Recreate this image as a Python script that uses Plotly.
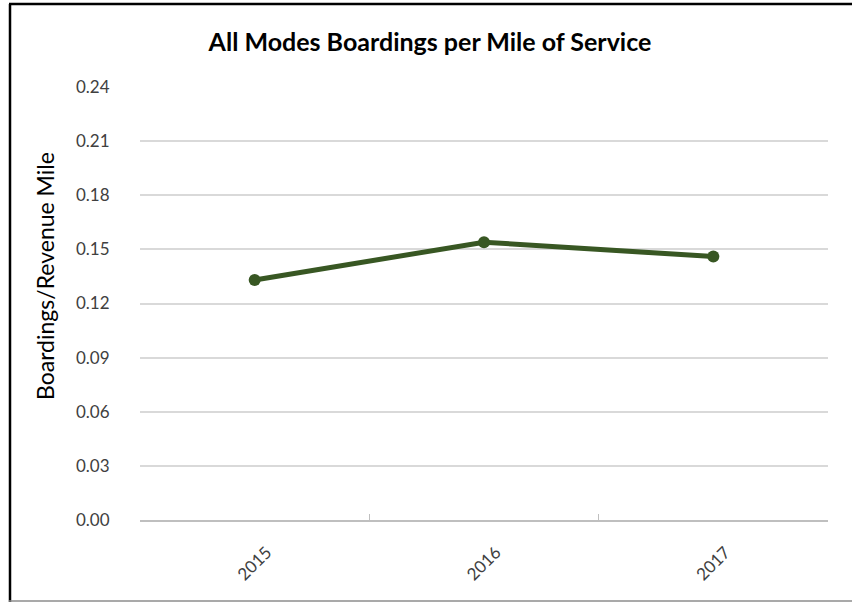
import plotly.graph_objects as go

years = ["2015", "2016", "2017"]
boardings_per_mile = [0.133, 0.154, 0.146]
y_ticks = [0.00, 0.03, 0.06, 0.09, 0.12, 0.15, 0.18, 0.21, 0.24]

fig = go.Figure()
fig.add_trace(go.Scatter(
    x=years, y=boardings_per_mile, mode="lines+markers",
    line=dict(color="#385723", width=5),
    marker=dict(color="#385723", size=12),
    showlegend=False,
))

L, R, T, B = 140, 24, 87, 82
W, H = 852, 602
pw, ph = W - L - R, H - T - B

def px(x):
    return (x - L) / pw

def py(y):
    return (H - B - y) / ph

fig.update_layout(
    width=W, height=H,
    margin=dict(l=L, r=R, t=T, b=B, autoexpand=False),
    paper_bgcolor="white", plot_bgcolor="white",
    font=dict(family="Lato, Open Sans, sans-serif", color="#595959", size=15),
    title=dict(text="<b>All Modes Boardings per Mile of Service</b>",
               x=px(430), xanchor="center", y=1 - 42 / H, yanchor="middle",
               xref="paper", font=dict(size=25, color="#000000")),
    xaxis=dict(
        type="category", showgrid=False, showline=True, linecolor="#bfbfbf",
        linewidth=1.5, ticks="inside", tickson="boundaries", ticklen=6,
        tickcolor="#bfbfbf", tickangle=-45, tickfont=dict(size=17, color="#404040"),
        ticklabelshift=12, ticklabelstandoff=14,
        range=[-0.5, 2.5], zeroline=False,
    ),
    yaxis=dict(
        range=[0, 0.24], tickvals=y_ticks, tickformat=".2f",
        showgrid=True, gridcolor="#d9d9d9", gridwidth=1.5,
        zeroline=False, showline=False, ticks="outside", ticklen=26,
        tickcolor="rgba(0,0,0,0)", tickfont=dict(size=17, color="#404040"),
    ),
    annotations=[dict(
        text="Boardings/Revenue Mile", textangle=-90,
        xref="paper", yref="paper", x=px(45), y=py(276),
        xanchor="center", yanchor="middle", showarrow=False,
        font=dict(size=23, color="#000000"),
    )],
    shapes=[
        dict(type="line", xref="paper", yref="paper",
             x0=px(10), x1=px(10), y0=py(604), y1=py(4),
             line=dict(color="#000000", width=2.5)),
        dict(type="line", xref="paper", yref="paper",
             x0=px(9), x1=px(852), y0=py(4), y1=py(4),
             line=dict(color="#000000", width=2.5)),
        dict(type="line", xref="paper", yref="paper",
             x0=px(9), x1=px(852), y0=py(601), y1=py(601),
             line=dict(color="#8c8c8c", width=1.5)),
    ],
)

fig.write_html("out.html", config={"displayModeBar": False},
               post_script="document.body.style.margin='0';")
